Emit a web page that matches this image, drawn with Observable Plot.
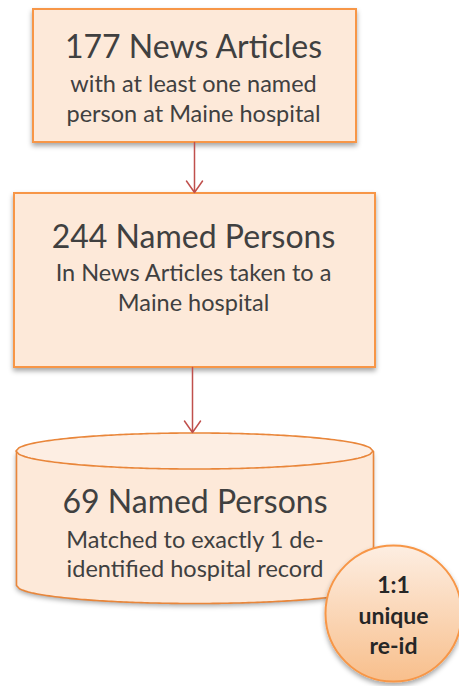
<!DOCTYPE html>
<html>
<head>
<meta charset="utf-8">
<script src="https://cdn.jsdelivr.net/npm/d3@7"></script>
<script src="https://cdn.jsdelivr.net/npm/@observablehq/plot@0.6"></script>
<style>
  html, body { margin: 0; padding: 0; background: #ffffff; }
  #chart svg { display: block; }
</style>
</head>
<body>
<div id="chart"></div>
<script>
// ---- Data (text content of the flow) ----
const nodeTitles = ["177 News Articles", "244 Named Persons", "69 Named Persons"];
const nodeSubtitles = [
  ["with at least one named", "person at Maine hospital"],
  ["In News Articles taken to a", "Maine hospital"],
  ["Matched to exactly 1 de-", "identified hospital record"]
];
const badgeLines = ["1:1", "unique", "re-id"];

// ---- Layout (pixel frame) ----
const W = 459, H = 686;
const boxes = [
  {x1: 33, x2: 356, y1: 9, y2: 142, tx: 193, ty: 57, sy: [91, 121]},
  {x1: 14, x2: 375, y1: 193, y2: 367, tx: 193, ty: 247, sy: [280, 310]}
];
const cyl = {x1: 16, x2: 373, top: 451, bottom: 585, ry: 18, tx: 194.5, ty: 512, sy: [547, 576]};
const badge = {cx: 393, cy: 613, r: 68, ty: [592, 623, 653]};
const arrows = [
  {x: 194, y1: 142, y2: 192},
  {x: 192, y1: 367, y2: 432}
];

const fillPeach = "#fde9d9";
const strokeOrange = "#f79646";
const textColor = "#404040";
const arrowColor = "#c0504d";
const font = "Lato, 'Open Sans', sans-serif";

// Rect data
const rectData = boxes.map((b, i) => ({...b, name: nodeTitles[i]}));

// Cylinder geometry via scales
const cx = (cyl.x1 + cyl.x2) / 2, rx = (cyl.x2 - cyl.x1) / 2;
const N = 120;
const ellX = d3.range(N + 1).map(k => cyl.x1 + (cyl.x2 - cyl.x1) * k / N);
const half = x => cyl.ry * Math.sqrt(Math.max(0, 1 - ((x - cx) / rx) ** 2));
const bodyArea = ellX.map(x => ({x, y1: cyl.top, y2: cyl.bottom + half(x)}));
const topEllipse = ellX.map(x => ({x, y1: cyl.top - half(x), y2: cyl.top + half(x)}));
const bodyOutline = [{x: cyl.x1, y: cyl.top}, ...ellX.map(x => ({x, y: cyl.bottom + half(x)})), {x: cyl.x2, y: cyl.top}];

// Text rows
const titleRows = [
  ...boxes.map((b, i) => ({x: b.tx, y: b.ty, t: nodeTitles[i]})),
  {x: cyl.tx, y: cyl.ty, t: nodeTitles[2]}
];
const subRows = [
  ...boxes.flatMap((b, i) => nodeSubtitles[i].map((t, j) => ({x: b.tx, y: b.sy[j], t}))),
  ...nodeSubtitles[2].map((t, j) => ({x: cyl.tx, y: cyl.sy[j], t}))
];
const badgeRows = badgeLines.map((t, j) => ({x: badge.cx, y: badge.ty[j], t}));

const plot = Plot.plot({
  width: W,
  height: H,
  margin: 0,
  x: {domain: [0, W], range: [0, W], axis: null},
  y: {domain: [0, H], range: [0, H], axis: null},
  style: {background: "#ffffff", fontFamily: font},
  marks: [
    Plot.rect(rectData, {x1: "x1", x2: "x2", y1: "y1", y2: "y2", fill: fillPeach, stroke: strokeOrange, strokeWidth: 2, className: "shadowed"}),
    Plot.areaY(bodyArea, {x: "x", y1: "y1", y2: "y2", fill: fillPeach, className: "shadowed"}),
    Plot.line(bodyOutline, {x: "x", y: "y", stroke: "#e9863a", strokeWidth: 1.6}),
    Plot.areaY(topEllipse, {x: "x", y1: "y1", y2: "y2", fill: "#fdeee3", stroke: "#e9863a", strokeWidth: 1.6}),
    Plot.arrow(arrows, {x1: "x", x2: "x", y1: "y1", y2: "y2", stroke: arrowColor, strokeWidth: 1.5, headLength: 14, headAngle: 70}),
    Plot.text(titleRows, {x: "x", y: "y", text: "t", fontSize: 32, fill: textColor, lineAnchor: "bottom", fontFamily: font}),
    Plot.text(subRows, {x: "x", y: "y", text: "t", fontSize: 23.5, fill: textColor, lineAnchor: "bottom", fontFamily: font}),
    Plot.dot([badge], {x: "cx", y: "cy", r: badge.r, fill: "url(#badgeGrad)", stroke: strokeOrange, strokeWidth: 2, className: "shadowed"}),
    Plot.text(badgeRows, {x: "x", y: "y", text: "t", fontSize: 23, fontWeight: "bold", fill: "#262626", lineAnchor: "bottom", fontFamily: font})
  ]
});

const svg = d3.select(plot);
const defs = svg.insert("defs", ":first-child");
const grad = defs.append("linearGradient").attr("id", "badgeGrad").attr("x1", 0).attr("y1", 0).attr("x2", 0).attr("y2", 1);
grad.append("stop").attr("offset", "0%").attr("stop-color", "#fdeee2");
grad.append("stop").attr("offset", "100%").attr("stop-color", "#f8bf8c");
const f = defs.append("filter").attr("id", "shadow").attr("x", "-10%").attr("y", "-10%").attr("width", "130%").attr("height", "140%");
f.append("feDropShadow").attr("dx", 0).attr("dy", 3).attr("stdDeviation", 2.5).attr("flood-color", "#000").attr("flood-opacity", 0.35);
svg.selectAll(".shadowed").attr("filter", "url(#shadow)");

document.getElementById("chart").appendChild(plot);
</script>
</body>
</html>
